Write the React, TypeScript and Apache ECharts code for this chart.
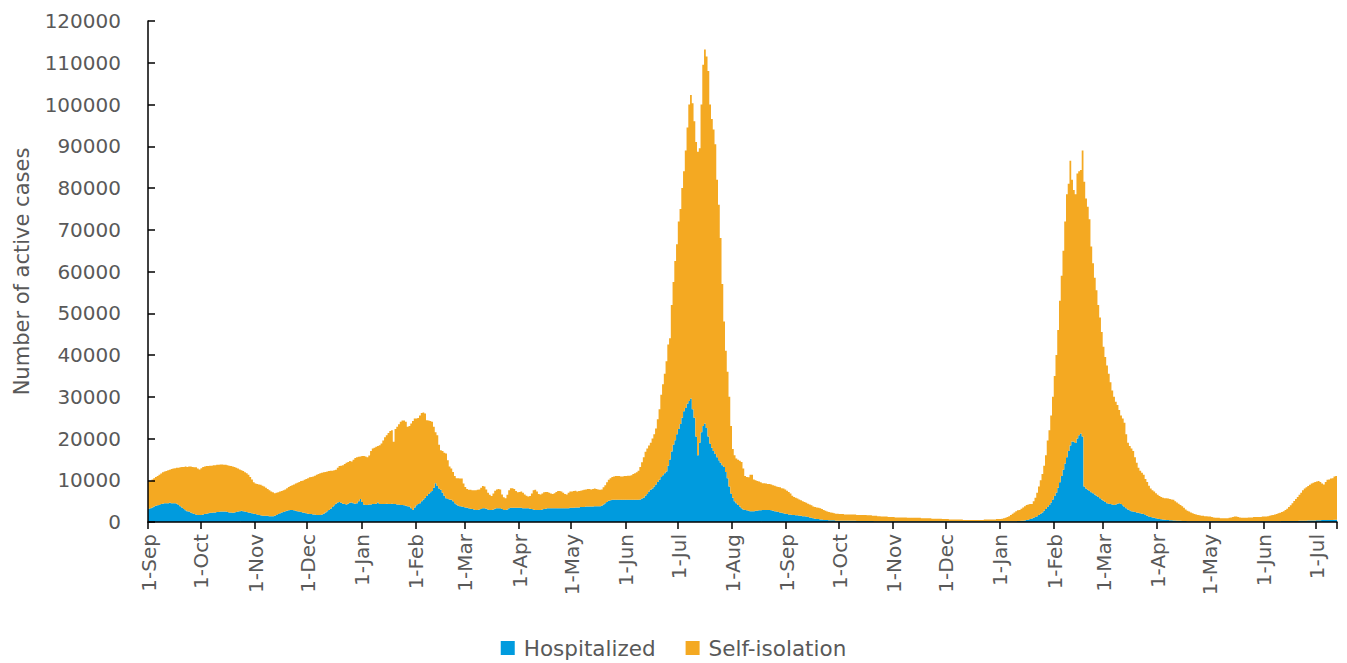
import React, { useEffect, useRef } from "react";
import * as echarts from "echarts";

// Month abbreviations used for the "1-Sep" style date labels
const monthNames = ["Jan", "Feb", "Mar", "Apr", "May", "Jun", "Jul", "Aug", "Sep", "Oct", "Nov", "Dec"];

// First day of the series (1 September 2020), one bar per day
const startYear = 2020;
const startMonth = 8;

// Total active cases per day, one row per calendar month
const activeCasesByMonth: number[][] = [
  // Sep 2020
  [9700, 9800, 10200, 10500, 10800, 11000, 11300, 11600, 11900, 12100, 12200, 12400, 12500, 12700, 12800, 12900, 13000, 13000, 13100, 13200, 13200, 13300, 13200, 13300, 13300, 13200, 13100, 13100, 12800, 12600],
  // Oct 2020
  [12900, 13200, 13300, 13400, 13400, 13500, 13500, 13600, 13600, 13700, 13700, 13800, 13800, 13700, 13700, 13600, 13500, 13400, 13300, 13200, 13000, 12800, 12600, 12400, 12200, 11900, 11700, 11300, 10800, 10200, 9500],
  // Nov 2020
  [9200, 9100, 9000, 8900, 8700, 8500, 8200, 7900, 7600, 7300, 7100, 6900, 7000, 7100, 7300, 7400, 7600, 7800, 8100, 8400, 8600, 8800, 9000, 9200, 9400, 9600, 9800, 9900, 10100, 10300],
  // Dec 2020
  [10500, 10700, 10800, 10900, 11100, 11300, 11500, 11700, 11800, 11900, 12000, 12100, 12200, 12300, 12300, 12400, 12500, 13000, 13400, 13500, 13600, 13900, 14200, 14400, 14600, 14500, 14900, 15300, 15500, 15600, 15700],
  // Jan 2021
  [15800, 15800, 15700, 15500, 15900, 17000, 17600, 17800, 18000, 18200, 18400, 18800, 19500, 20300, 20800, 21300, 21800, 22000, 19200, 22300, 22800, 23400, 24000, 24300, 24300, 24000, 22800, 23000, 23600, 24200, 24800],
  // Feb 2021
  [24800, 24900, 25500, 26100, 26200, 26000, 24400, 24300, 24200, 24000, 22800, 21500, 20800, 18500, 17200, 17000, 16600, 16400, 14800, 13300, 12800, 12000, 11000, 10500, 10500, 10400, 10400, 9200],
  // Mar 2021
  [8400, 7900, 7700, 7700, 7600, 7600, 7600, 7700, 7800, 8200, 8600, 8500, 7800, 7000, 6500, 6200, 6800, 7500, 7800, 7900, 7800, 6600, 5900, 5700, 6500, 7600, 8100, 8100, 7900, 7400, 7100],
  // Apr 2021
  [7200, 7300, 7000, 6600, 6300, 6100, 6200, 6800, 7600, 7700, 7300, 6700, 6600, 6800, 7100, 7200, 7200, 7000, 6800, 6700, 6900, 7200, 7400, 7400, 7300, 7000, 6700, 6600, 7000, 7300],
  // May 2021
  [7300, 7400, 7500, 7300, 7400, 7500, 7600, 7700, 7800, 7900, 7900, 7800, 7900, 8000, 7900, 7800, 7700, 7800, 8300, 8800, 9500, 10100, 10500, 10800, 10900, 11000, 11000, 11000, 10900, 10900, 11000],
  // Jun 2021
  [11000, 11100, 11100, 11200, 11500, 11700, 11900, 12300, 13200, 14300, 15500, 16800, 17600, 18300, 19000, 20000, 21000, 22400, 24600, 27000, 30500, 33000, 35500, 38500, 42500, 44000, 52000, 57500, 62500, 66500],
  // Jul 2021
  [72000, 75000, 80000, 84000, 89000, 94500, 100000, 102300, 100300, 96000, 91000, 88700, 89500, 100000, 109500, 113200, 111500, 108000, 100000, 96500, 94000, 90500, 82000, 76000, 68000, 57000, 48000, 41000, 36000, 30000, 23000],
  // Aug 2021
  [17500, 16000, 15200, 14900, 14700, 14400, 12800, 11000, 10800, 10700, 11300, 11300, 10200, 10000, 9800, 9700, 9500, 9300, 9300, 9200, 9100, 9100, 9000, 8800, 8700, 8500, 8400, 8300, 8100, 8000, 7800],
  // Sep 2021
  [7500, 7200, 6800, 6300, 6000, 5800, 5600, 5400, 5200, 5000, 4800, 4600, 4400, 4200, 4000, 3700, 3600, 3500, 3400, 3300, 3100, 2900, 2700, 2500, 2400, 2300, 2200, 2100, 2000, 2000],
  // Oct 2021
  [1900, 1900, 1900, 1800, 1800, 1800, 1800, 1800, 1800, 1800, 1700, 1700, 1700, 1700, 1700, 1700, 1600, 1600, 1600, 1500, 1500, 1500, 1400, 1400, 1300, 1300, 1300, 1300, 1200, 1200, 1200],
  // Nov 2021
  [1200, 1100, 1100, 1100, 1100, 1100, 1100, 1100, 1000, 1000, 1000, 1000, 1000, 1000, 1000, 1000, 900, 900, 900, 900, 900, 900, 800, 800, 800, 800, 800, 800, 700, 700],
  // Dec 2021
  [700, 700, 600, 600, 600, 600, 600, 600, 600, 600, 500, 500, 500, 500, 500, 500, 500, 500, 500, 500, 500, 500, 600, 600, 600, 600, 600, 600, 600, 700, 700],
  // Jan 2022
  [700, 800, 900, 1000, 1200, 1400, 1700, 2000, 2300, 2600, 2800, 2900, 3200, 3500, 3800, 4100, 4200, 4300, 4300, 5000, 5800, 7000, 8500, 10000, 11500, 13500, 16000, 19500, 22000, 25500, 30000],
  // Feb 2022
  [35000, 40000, 46000, 53000, 59000, 65000, 72000, 78500, 81000, 86500, 82000, 79500, 78500, 83500, 84000, 84300, 89000, 81500, 77500, 75500, 72500, 66000, 62000, 58500, 55500, 52000, 49000, 45500],
  // Mar 2022
  [42000, 39500, 37500, 35500, 33500, 31500, 30000, 28800, 28000, 26800, 25500, 24800, 23800, 21000, 19000, 18200, 17600, 17000, 15500, 14200, 13000, 12300, 11800, 11300, 10300, 9600, 8700, 8000, 7600, 7300, 6900],
  // Apr 2022
  [6500, 6200, 6000, 5800, 5700, 5700, 5600, 5500, 5400, 5300, 5000, 4700, 4400, 4100, 3800, 3400, 3000, 2700, 2500, 2300, 2100, 1900, 1800, 1700, 1600, 1500, 1500, 1400, 1400, 1300],
  // May 2022
  [1300, 1200, 1100, 1000, 1000, 1000, 900, 900, 900, 900, 900, 1000, 1100, 1200, 1300, 1300, 1200, 1100, 1000, 1000, 1000, 1000, 1100, 1100, 1100, 1200, 1200, 1200, 1200, 1200, 1300],
  // Jun 2022
  [1300, 1300, 1400, 1500, 1600, 1700, 1800, 1900, 2100, 2200, 2400, 2600, 2900, 3200, 3600, 4000, 4500, 5000, 5500, 6000, 6500, 7000, 7600, 8000, 8300, 8600, 8900, 9200, 9400, 9600],
  // Jul 2022
  [9700, 9800, 9600, 9200, 9000, 9600, 10100, 10200, 10400, 10500, 10900, 11000],
];

// Hospitalized cases per day, one row per calendar month
const hospitalizedByMonth: number[][] = [
  // Sep 2020
  [3200, 3300, 3500, 3700, 3900, 4000, 4100, 4300, 4400, 4500, 4500, 4500, 4600, 4500, 4500, 4500, 4400, 4100, 3800, 3500, 3100, 2800, 2600, 2500, 2300, 2100, 1900, 1800, 1700, 1700],
  // Oct 2020
  [1700, 1800, 1900, 2000, 2100, 2200, 2200, 2300, 2300, 2400, 2400, 2500, 2500, 2500, 2500, 2400, 2300, 2300, 2200, 2300, 2400, 2500, 2600, 2700, 2600, 2500, 2400, 2300, 2200, 2100, 2000],
  // Nov 2020
  [1900, 1800, 1700, 1600, 1500, 1500, 1500, 1500, 1400, 1400, 1400, 1500, 1700, 1900, 2100, 2300, 2400, 2600, 2700, 2800, 2900, 2900, 2800, 2700, 2600, 2500, 2400, 2300, 2200, 2100],
  // Dec 2020
  [2000, 1900, 1900, 1800, 1800, 1700, 1700, 1700, 1800, 2000, 2300, 2600, 2900, 3200, 3600, 4000, 4400, 4700, 4800, 4600, 4400, 4300, 4200, 4400, 4600, 4700, 4500, 4400, 4500, 5000, 5500],
  // Jan 2021
  [4800, 4200, 4100, 4100, 4200, 4200, 4300, 4300, 4400, 4700, 4300, 4300, 4300, 4300, 4400, 4300, 4300, 4400, 4300, 4300, 4200, 4200, 4100, 4100, 4000, 3900, 3800, 3700, 3300, 2900, 3500],
  // Feb 2021
  [4000, 4300, 4500, 5000, 5400, 5800, 6200, 6700, 7100, 7400, 8200, 9300, 8600, 8000, 7700, 7000, 6300, 5700, 5500, 5400, 5300, 5000, 4500, 4200, 3900, 3800, 3700, 3600],
  // Mar 2021
  [3500, 3400, 3300, 3200, 3100, 3000, 2900, 2900, 3000, 3100, 3300, 3300, 3200, 3000, 2900, 2900, 3000, 3200, 3300, 3300, 3300, 3100, 2900, 2900, 3000, 3300, 3400, 3400, 3400, 3400, 3400],
  // Apr 2021
  [3400, 3400, 3300, 3300, 3300, 3300, 3200, 3100, 3000, 2900, 2900, 2900, 2900, 3000, 3100, 3200, 3300, 3300, 3300, 3300, 3300, 3300, 3300, 3300, 3300, 3300, 3300, 3300, 3300, 3400],
  // May 2021
  [3400, 3400, 3500, 3500, 3500, 3600, 3600, 3600, 3700, 3700, 3700, 3700, 3700, 3800, 3800, 3800, 3800, 3900, 4200, 4500, 4800, 5100, 5200, 5300, 5300, 5300, 5300, 5300, 5300, 5300, 5300],
  // Jun 2021
  [5300, 5300, 5300, 5300, 5300, 5300, 5300, 5300, 5400, 5600, 5800, 6300, 6700, 7300, 7700, 8000, 8500, 9000, 9600, 10100, 10800, 11200, 11700, 12100, 13500, 15000, 16900, 18500, 19600, 21000],
  // Jul 2021
  [22300, 23500, 25000, 26500, 27300, 28300, 29000, 29600, 27000, 25000, 20500, 16000, 19000, 21500, 23000, 23600, 22500, 20500, 18800, 17800, 17000, 16300, 15500, 14800, 14200, 13600, 13200, 12000, 10500, 8500, 6800],
  // Aug 2021
  [5800, 5000, 4500, 4100, 3700, 3300, 3000, 2900, 2800, 2700, 2600, 2600, 2600, 2700, 2700, 2800, 2800, 2900, 2900, 2900, 2900, 2900, 2800, 2700, 2600, 2500, 2400, 2300, 2200, 2100, 2000],
  // Sep 2021
  [1900, 1800, 1800, 1700, 1700, 1600, 1600, 1500, 1500, 1400, 1400, 1300, 1200, 1100, 1000, 900, 800, 700, 700, 600, 600, 500, 500, 500, 400, 400, 400, 400, 300, 300],
  // Oct 2021
  [300, 300, 300, 300, 300, 300, 300, 300, 300, 300, 250, 250, 250, 250, 250, 250, 250, 250, 250, 250, 200, 200, 200, 200, 200, 200, 200, 200, 200, 200, 200],
  // Nov 2021
  [200, 200, 200, 200, 200, 200, 200, 200, 200, 200, 200, 200, 200, 200, 200, 200, 200, 200, 200, 200, 200, 200, 200, 200, 200, 200, 200, 200, 200, 200],
  // Dec 2021
  [200, 200, 200, 200, 200, 200, 200, 200, 200, 200, 150, 150, 150, 150, 150, 150, 150, 150, 150, 150, 150, 150, 150, 150, 150, 150, 150, 150, 150, 150, 150],
  // Jan 2022
  [150, 150, 150, 150, 150, 150, 200, 200, 200, 200, 250, 250, 300, 300, 350, 450, 550, 700, 850, 1000, 1200, 1400, 1700, 2000, 2300, 2700, 3100, 3600, 4100, 4700, 5400],
  // Feb 2022
  [6200, 7000, 8200, 9500, 11000, 12500, 14000, 15500, 17000, 18300, 19300, 19200, 18900, 20000, 20800, 21200, 20500, 8500, 8000, 7700, 7400, 7100, 6900, 6600, 6300, 6000, 5700, 5400],
  // Mar 2022
  [5100, 4800, 4500, 4400, 4300, 4200, 4100, 4200, 4400, 4500, 4300, 4000, 3600, 3300, 3000, 2800, 2600, 2500, 2400, 2300, 2200, 2100, 2000, 1900, 1700, 1500, 1300, 1200, 1100, 1000, 900],
  // Apr 2022
  [800, 700, 650, 600, 550, 500, 450, 400, 400, 350, 350, 300, 300, 300, 250, 250, 250, 200, 200, 200, 200, 200, 200, 200, 200, 200, 200, 200, 200, 200],
  // May 2022
  [200, 200, 200, 200, 200, 200, 200, 200, 200, 200, 200, 200, 200, 200, 200, 200, 200, 200, 200, 200, 200, 200, 200, 200, 200, 200, 200, 200, 200, 200, 200],
  // Jun 2022
  [200, 200, 200, 200, 200, 200, 200, 200, 200, 200, 250, 250, 250, 250, 250, 250, 250, 250, 250, 250, 300, 300, 300, 300, 300, 350, 350, 350, 350, 350],
  // Jul 2022
  [400, 400, 400, 450, 450, 450, 500, 500, 500, 500, 550, 550],
];

const BLUE = "#009BDE";
const ORANGE = "#F4A922";
const TEXT = "#595959";
const FONT = "DejaVu Sans";

const activeCases = activeCasesByMonth.flat();
const hospitalized = hospitalizedByMonth.flat();
// Self-isolating cases are the active cases that are not in hospital
const selfIsolation = activeCases.map((total, i) => total - hospitalized[i]);

// One category per day, labelled "d-Mon"
const dayLabels = activeCases.map((_, i) => {
  const d = new Date(Date.UTC(startYear, startMonth, 1 + i));
  return `${d.getUTCDate()}-${monthNames[d.getUTCMonth()]}`;
});

const isMonthStart = (_index: number, value: string) => value.startsWith("1-");

export default function App() {
  const ref = useRef<HTMLDivElement>(null);

  useEffect(() => {
    if (!ref.current) return;
    const chart = echarts.init(ref.current, undefined, { renderer: "svg" });
    chart.setOption({
      animation: false,
      backgroundColor: "#ffffff",
      textStyle: { fontFamily: FONT },
      grid: { left: 148, right: 10, top: 21, bottom: 141, containLabel: false },
      legend: {
        bottom: undefined,
        top: 637,
        left: "center",
        padding: 0,
        itemWidth: 14,
        itemHeight: 14,
        itemGap: 30,
        icon: "rect",
        textStyle: { color: TEXT, fontSize: 21.5, fontFamily: FONT, padding: [0, 0, 0, 4] },
        data: ["Hospitalized", "Self-isolation"],
      },
      xAxis: {
        type: "category",
        data: dayLabels,
        boundaryGap: true,
        z: 5,
        axisLine: { show: true, lineStyle: { color: "#000000", width: 1.5 } },
        axisTick: {
          show: true,
          interval: isMonthStart,
          alignWithLabel: false,
          length: 7,
          lineStyle: { color: "#000000", width: 1.5 },
        },
        axisLabel: {
          interval: isMonthStart,
          rotate: 90,
          margin: 12,
          color: TEXT,
          fontSize: 20,
          fontFamily: FONT,
        },
        splitLine: { show: false },
      },
      yAxis: {
        type: "value",
        min: 0,
        max: 120000,
        interval: 10000,
        z: 5,
        name: "Number of active cases",
        nameLocation: "middle",
        nameGap: 116,
        nameTextStyle: { color: TEXT, fontSize: 21, fontFamily: FONT },
        axisLine: { show: true, lineStyle: { color: "#000000", width: 1.5 } },
        axisTick: { show: true, inside: true, length: 7, lineStyle: { color: "#000000", width: 1.5 } },
        axisLabel: {
          color: TEXT,
          fontSize: 20,
          fontFamily: FONT,
          margin: 27,
          formatter: (v: number) => String(v),
        },
        splitLine: { show: false },
      },
      series: [
        {
          name: "Hospitalized",
          type: "bar",
          stack: "cases",
          data: hospitalized,
          barCategoryGap: "0%",
          barGap: "0%",
          large: true,
          largeThreshold: 100,
          itemStyle: { color: BLUE },
        },
        {
          name: "Self-isolation",
          type: "bar",
          stack: "cases",
          data: selfIsolation,
          barCategoryGap: "0%",
          barGap: "0%",
          large: true,
          largeThreshold: 100,
          itemStyle: { color: ORANGE },
        },
      ],
    });
    return () => chart.dispose();
  }, []);

  return (
    <div
      ref={ref}
      style={{ position: "fixed", left: 0, top: 0, width: 1347, height: 663, background: "#ffffff" }}
    />
  );
}
